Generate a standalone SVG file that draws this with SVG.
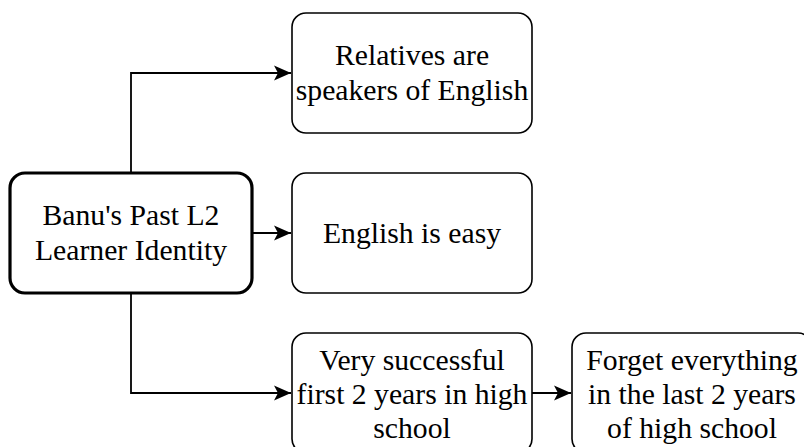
<svg xmlns="http://www.w3.org/2000/svg" width="804" height="447" viewBox="0 0 804 447">
  <style>
    .box { fill: #ffffff; stroke: #000000; stroke-width: 1.6; }
    .main { fill: #ffffff; stroke: #000000; stroke-width: 3.2; }
    .lbl { font-family: 'Liberation Serif', Tinos, 'Times New Roman', Times, serif; font-size: 29.7px; fill: #000000; text-anchor: middle; }
    .edge { fill: none; stroke: #000000; stroke-width: 1.8; }
  </style>
  <defs>
    <marker id="arrow" viewBox="-18 -9 19 18" refX="0" refY="0" markerWidth="19" markerHeight="18" markerUnits="userSpaceOnUse" orient="auto">
      <path d="M0,0 L-17,-7.5 L-13,0 L-17,7.5 Z" fill="#000000"/>
    </marker>
  </defs>
  <rect width="804" height="447" fill="#ffffff"/>

  <g id="connectors">
    <path class="edge" d="M131,173 V73 H291" marker-end="url(#arrow)"/>
    <path class="edge" d="M252,233 H291" marker-end="url(#arrow)"/>
    <path class="edge" d="M131,293 V393 H291" marker-end="url(#arrow)"/>
    <path class="edge" d="M532,393 H571" marker-end="url(#arrow)"/>
  </g>

  <g id="past-identity">
    <rect class="main" x="10" y="173" width="242" height="120" rx="15"/>
    <text class="lbl" x="131" y="225" font-family="Liberation Serif">Banu's Past L2</text>
    <text class="lbl" x="131" y="260" font-family="Liberation Serif">Learner Identity</text>
  </g>

  <g id="relatives">
    <rect class="box" x="292" y="13" width="240" height="120" rx="14"/>
    <text class="lbl" x="412" y="65">Relatives are</text>
    <text class="lbl" x="412" y="100">speakers of English</text>
  </g>

  <g id="english-easy">
    <rect class="box" x="292" y="173" width="240" height="120" rx="14"/>
    <text class="lbl" x="412" y="243">English is easy</text>
  </g>

  <g id="first-years">
    <rect class="box" x="292" y="333" width="240" height="120" rx="14"/>
    <text class="lbl" x="412" y="370">Very successful</text>
    <text class="lbl" x="412" y="404">first 2 years in high</text>
    <text class="lbl" x="412" y="438">school</text>
  </g>

  <g id="last-years">
    <rect class="box" x="572" y="333" width="240" height="120" rx="14"/>
    <text class="lbl" x="692" y="370">Forget everything</text>
    <text class="lbl" x="692" y="404">in the last 2 years</text>
    <text class="lbl" x="692" y="438">of high school</text>
  </g>
</svg>
